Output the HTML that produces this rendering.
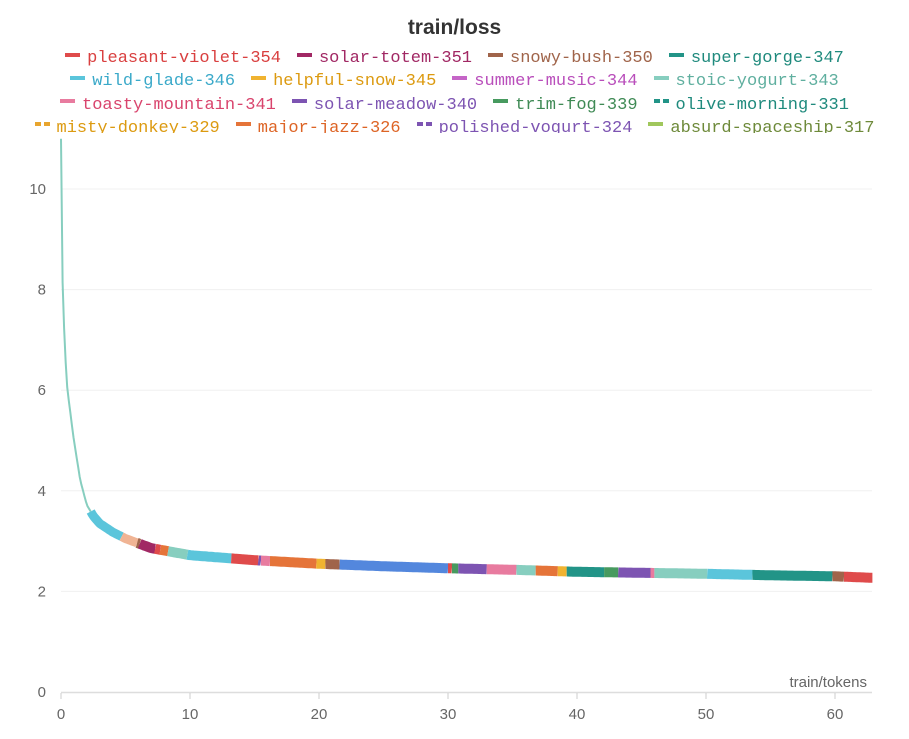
<!DOCTYPE html>
<html><head><meta charset="utf-8"><style>
body{margin:0;background:#fff;width:909px;height:739px;overflow:hidden;font-family:"Liberation Sans",sans-serif}
#title{position:absolute;top:16px;left:0;width:909px;text-align:center;font-weight:bold;font-size:21px;color:#333}
#legend{position:absolute;top:47px;left:0;width:909px;height:86px;overflow:hidden;font-family:"Liberation Mono",monospace;font-size:17px}
.row{text-align:center;height:23.3px;line-height:23px;white-space:nowrap}
.it{display:inline-block;margin:0 8px}
.sw{display:inline-block;width:15px;height:4px;margin-right:7px;vertical-align:middle;position:relative;top:-3px}
</style></head><body>
<div id="title">train/loss</div>
<div id="legend"></div>
<svg id="chart" width="909" height="739" style="position:absolute;left:0;top:0"></svg>
<script>
const legendNames=["pleasant-violet-354","solar-totem-351","snowy-bush-350","super-gorge-347","wild-glade-346","helpful-snow-345","summer-music-344","stoic-yogurt-343","toasty-mountain-341","solar-meadow-340","trim-fog-339","olive-morning-331","misty-donkey-329","major-jazz-326","polished-vogurt-324","absurd-spaceship-317"];
const legendColors=["#df4b4b","#a12864","#a0644a","#229487","#5bc5db","#f0b330","#c565c7","#87cebf","#e87b9f","#7d54b2","#479a5f","#229487","#e8a52e","#e57439","#7d54b2","#a0c75c"];
const legendText=["#d94040","#a12864","#a0644a","#1f8a7d","#3aa9c9","#dc9a10","#b94ebb","#5faf9f","#d9446d","#7d54b2","#3f8a55","#1f8a7d","#dc9a10","#dd6425","#7d54b2","#6e8a3a"];
const legendDashed=[0,0,0,0,0,0,0,0,0,0,0,1,1,0,1,0];
const curveX=[0,0.1,0.3,0.5,1,1.5,2,2.5,3,4,5,7,10,15,20,25,30,35,40,45,50,55,60,62.9];
const curveY=[11,8.3,6.8,6.0,5.0,4.2,3.72,3.5,3.35,3.18,3.05,2.86,2.72,2.62,2.55,2.5,2.46,2.43,2.39,2.37,2.35,2.32,2.3,2.27];
const segStart=[0,2.3,4.7,5.9,6.1,7.3,7.7,8.3,9.8,13.2,15.3,15.5,16.2,19.8,20.5,21.6,30,30.3,30.8,33,35.3,36.8,38.5,39.2,42.1,43.2,45.7,46,50.1,53.6,59.8,60.7];
const segEnd=[2.3,4.7,5.9,6.1,7.3,7.7,8.3,9.8,13.2,15.3,15.5,16.2,19.8,20.5,21.6,30,30.3,30.8,33,35.3,36.8,38.5,39.2,42.1,43.2,45.7,46,50.1,53.6,59.8,60.7,62.9];
const segColor=["#87cebf","#5bc5db","#f0b494","#a0644a","#a12864","#df4b4b","#e57439","#87cebf","#5bc5db","#df4b4b","#7d54b2","#e87b9f","#e57439","#f0b330","#a0644a","#5387dd","#df4b4b","#479a5f","#7d54b2","#e87b9f","#87cebf","#e57439","#f0b330","#229487","#479a5f","#7d54b2","#e87b9f","#87cebf","#5bc5db","#229487","#a0644a","#df4b4b"];
const yTicks=[0,2,4,6,8,10];
const xTicks=[0,10,20,30,40,50,60];

const rows=[[0,4],[4,8],[8,12],[12,16]];
const lg=document.getElementById('legend');
rows.forEach(r=>{const d=document.createElement('div');d.className='row';


for(let i=r[0];i<r[1];i++){const s=document.createElement('span');s.className='it';


const bg=legendDashed[i]?`linear-gradient(90deg,${legendColors[i]} 0 6px,transparent 6px 9px,${legendColors[i]} 9px)`:legendColors[i];
s.innerHTML=`<span class="sw" style="background:${bg}"></span><span style="color:${legendText[i]}">${legendNames[i]}</span>`;d.appendChild(s);}
lg.appendChild(d);});

const X=v=>61+v*12.9, Y=v=>692-v*50.3;
const svg=document.getElementById('chart');const NS='http://www.w3.org/2000/svg';
function mk(t,a){const e=document.createElementNS(NS,t);for(const k in a)e.setAttribute(k,a[k]);svg.appendChild(e);return e;}
yTicks.forEach(t=>{
if(t>0){const g=mk('line',{x1:61,x2:872,y1:Y(t),y2:Y(t),stroke:'#f0f0f0','stroke-width':1});

}
const l=mk('text',{x:46,y:Y(t)+5,'text-anchor':'end','font-size':15,fill:'#666','font-family':'Liberation Sans, sans-serif'});l.textContent=t;

});
const ax=mk('line',{x1:61,x2:872,y1:692.5,y2:692.5,stroke:'#ddd','stroke-width':1.5});


xTicks.forEach(t=>{const tk=mk('line',{x1:X(t),x2:X(t),y1:693,y2:699,stroke:'#ccc'});


const l=mk('text',{x:X(t),y:719,'text-anchor':'middle','font-size':15,fill:'#666','font-family':'Liberation Sans, sans-serif'});l.textContent=t;

});
const xt=mk('text',{x:867,y:687,'text-anchor':'end','font-size':15,fill:'#666','font-family':'Liberation Sans, sans-serif'});xt.textContent='train/tokens';


function f(x){for(let i=0;i<curveX.length-1;i++){if(x<=curveX[i+1]){const t=(x-curveX[i])/(curveX[i+1]-curveX[i]);return curveY[i]+t*(curveY[i+1]-curveY[i]);}}return curveY[curveY.length-1];}
const cp=mk('clipPath',{id:'cp'});const cr=document.createElementNS(NS,'rect');cr.setAttribute('x',55);cr.setAttribute('y',134);cr.setAttribute('width',830);cr.setAttribute('height',560);cp.appendChild(cr);
segStart.forEach((s,i)=>{let d='';const e=segEnd[i];const n=Math.max(4,Math.ceil((e-s)*8));
for(let k=0;k<=n;k++){const x=s+(e-s)*k/n;d+=(k?'L':'M')+X(x).toFixed(1)+','+Y(f(x)).toFixed(1);}
const w=s<2?2:(s<5?9:10);
const p=mk('path',{d:d,fill:'none',stroke:segColor[i],'stroke-width':w,'clip-path':'url(#cp)'});

});
</script>
</body></html>
